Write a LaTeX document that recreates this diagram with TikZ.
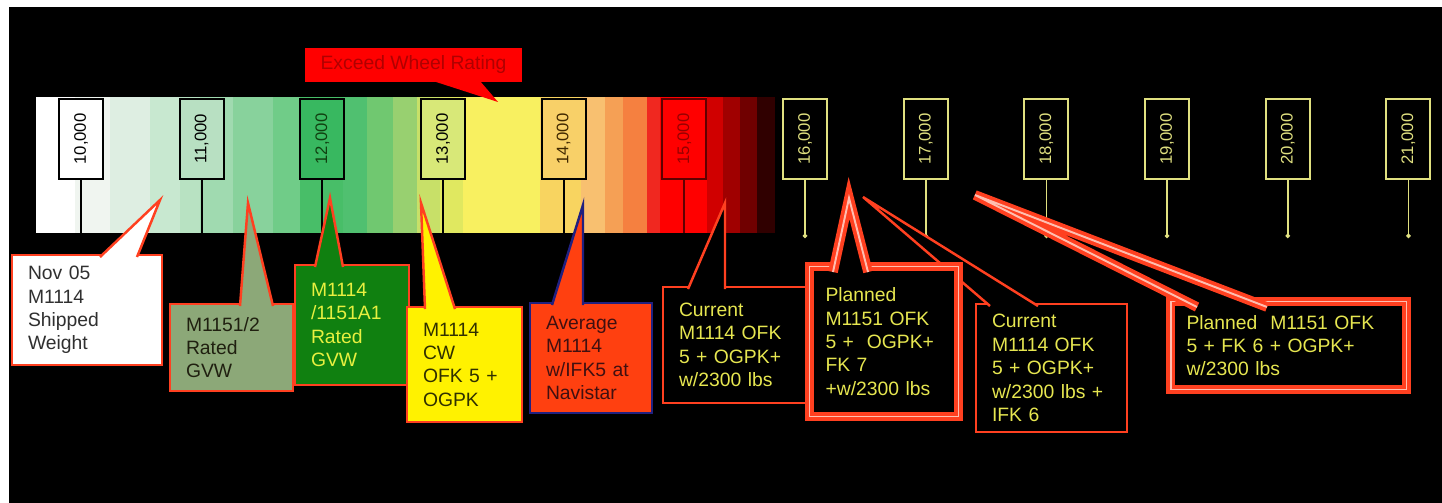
\documentclass[tikz,border=0pt]{standalone}
\usepackage{fontspec}
\setmainfont{Liberation Sans}
\usepackage{graphicx}
\usepackage{tikz}
\usetikzlibrary{arrows.meta, calc, positioning}

\definecolor{calred}{RGB}{255,64,32}
\definecolor{calpink}{RGB}{255,190,176}
\definecolor{calyel}{RGB}{230,230,80}
\definecolor{offyel}{RGB}{224,224,128}
\definecolor{sage}{RGB}{140,168,120}
\definecolor{darkgr}{RGB}{16,128,16}
\definecolor{navyline}{RGB}{32,32,128}
\definecolor{avgred}{RGB}{255,64,16}
\definecolor{tkgreen}{RGB}{184,224,194}
\definecolor{tkmid}{RGB}{56,184,96}
\definecolor{tklime}{RGB}{216,232,120}
\definecolor{tkorange}{RGB}{248,208,104}

\begin{document}
\begin{tikzpicture}[
            x = 0.02cm,
            y = -0.02cm,
            node distance = 2.414cm,
            on grid,
            tickon/.style = {draw = black, line width = 1.1pt, minimum width = 0.88cm,
                minimum height = 1.6cm, inner sep = 0pt, font = \fontsize{9.5}{11}\selectfont},
            tickoff/.style = {tickon, draw = offyel, fill = black, text = offyel},
            stemon/.style = {draw = black, line width = 1.1pt},
            stemoff/.style = {draw = offyel, line width = 1pt, -{Circle[length = 2.4pt]}},
            callbox/.style = {draw = calred, line width = 1.4pt, outer sep = 0pt, inner xsep = 0.32cm,
                align = left, font = \fontsize{11}{13.3}\selectfont},
            bigbox/.style = {callbox, line width = 2.2pt, double = calpink, double distance = 1.1pt},
            calltag/.style = {draw = calred, line width = 1.4pt},
            bigtag/.style = {calltag, line width = 2.2pt, double = calpink, double distance = 1.1pt}
        ]
        \useasboundingbox (0,0) rectangle (1442,503);
        \fill[white] (0,0) rectangle (1442,503);
        \fill[black] (9,7) rectangle (1442,503);

        % colour bar
        \foreach \xa/\xb/\r/\g/\b in {36/75/255/255/255, 75/110/240/245/240, 110/150/222/238/226,
            150/180/200/232/208, 180/200/184/226/194, 200/233/160/218/176, 233/273/136/210/156,
            273/300/112/204/136, 300/343/72/190/104, 343/367/80/192/112, 367/393/112/200/112,
            393/417/152/208/112, 417/440/200/224/104, 440/463/224/232/96, 463/540/248/240/96,
            540/581/248/212/96, 581/605/248/192/112, 605/623/245/160/85, 623/647/245/128/64,
            647/660/240/40/32, 660/707/255/0/0, 707/723/208/0/0, 723/740/160/0/0,
            740/757/112/0/0, 757/775/48/0/0}
            \fill[fill = {rgb,255:red,\r;green,\g;blue,\b}] (\xa,97) rectangle (\xb,233);
        \coordinate (barbot) at (0,233);
        \coordinate (stemend) at (0,238);

        \node[tickon, fill = white] (t10) at (81,139) {\rotatebox{90}{10,000}};
        \node[tickon, fill = tkgreen, right = of t10] (t11) {\rotatebox{90}{11,000}};
        \node[tickon, fill = tkmid, text = {rgb,255:red,16;green,64;blue,16}, right = of t11] (t12) {\rotatebox{90}{12,000}};
        \node[tickon, fill = tklime, right = of t12] (t13) {\rotatebox{90}{13,000}};
        \node[tickon, fill = tkorange, text = {rgb,255:red,64;green,40;blue,0}, right = of t13] (t14) {\rotatebox{90}{14,000}};
        \node[tickon, draw = {rgb,255:red,96;green,0;blue,0}, fill = red, text = {rgb,255:red,150;green,0;blue,0}, right = of t14] (t15) {\rotatebox{90}{15,000}};
        \node[tickoff, right = of t15] (t16) {\rotatebox{90}{16,000}};
        \node[tickoff, right = of t16] (t17) {\rotatebox{90}{17,000}};
        \node[tickoff, right = of t17] (t18) {\rotatebox{90}{18,000}};
        \node[tickoff, right = of t18] (t19) {\rotatebox{90}{19,000}};
        \node[tickoff, right = of t19] (t20) {\rotatebox{90}{20,000}};
        \node[tickoff, right = of t20] (t21) {\rotatebox{90}{21,000}};

        \draw[stemon] (t10) -- (t10 |- barbot);
        \draw[stemon] (t11) -- (t11 |- barbot);
        \draw[stemon] (t12) -- (t12 |- barbot);
        \draw[stemon] (t13) -- (t13 |- barbot);
        \draw[stemon] (t14) -- (t14 |- barbot);
        \draw[stemon, draw = {rgb,255:red,96;green,0;blue,0}] (t15) -- (t15 |- barbot);
        \draw[stemoff] (t16) -- (t16 |- stemend);
        \draw[stemoff] (t17) -- (t17 |- stemend);
        \draw[stemoff] (t18) -- (t18 |- stemend);
        \draw[stemoff] (t19) -- (t19 |- stemend);
        \draw[stemoff] (t20) -- (t20 |- stemend);
        \draw[stemoff] (t21) -- (t21 |- stemend);

        % callout tips
        \coordinate (pexc) at (498,102);
        \coordinate (pnov) at (160,200);
        \coordinate (pgvw) at (248,203);
        \coordinate (prated) at (330,198);
        \coordinate (pcw) at (421,203);
        \coordinate (pavg) at (583,205);
        \coordinate (pcur) at (725,203);
        \coordinate (pplan) at (849,198);
        \coordinate (pcurifk) at (863,197);
        \coordinate (pplanfk) at (975,195);

        \node[callbox, draw = none, fill = red, align = center, text = {rgb,255:red,176;green,0;blue,0},
            minimum width = 4.3cm, minimum height = 0.68cm] (exc) at (413.5,65) {Exceed Wheel Rating};
        \fill[red] ($(433,0 |- exc.south)+(0,-1)$) -- (pexc) -- ($(480,0 |- exc.south)+(0,-1)$) -- cycle;

        \node[callbox, fill = white, text = {rgb,255:red,48;green,48;blue,48}, text width = 2.36cm,
            minimum height = 2.2cm] (nov) at (87,310) {Nov 05\\ M1114\\ Shipped\\ Weight};
        \draw[calltag, fill = white] ($(100,0 |- nov.north)+(0,2)$) -- (pnov) -- ($(137,0 |- nov.north)+(0,2)$);

        \node[callbox, fill = sage, text = {rgb,255:red,32;green,32;blue,16}, text width = 1.82cm,
            minimum height = 1.74cm] (gvw) at (231.5,347.5) {M1151/2\\ Rated\\ GVW};
        \draw[calltag, fill = sage] ($(240,0 |- gvw.north)+(0,2)$) -- (pgvw) -- ($(273,0 |- gvw.north)+(0,2)$);

        \node[callbox, fill = darkgr, text = {rgb,255:red,232;green,240;blue,64}, text width = 1.64cm,
            minimum height = 2.4cm] (rated) at (352,325) {M1114\\ /1151A1\\ Rated\\ GVW};
        \draw[calltag, fill = darkgr] ($(315,0 |- rated.north)+(0,2)$) -- (prated) -- ($(343,0 |- rated.north)+(0,2)$);

        \node[callbox, fill = yellow, text = {rgb,255:red,48;green,48;blue,0}, text width = 1.66cm,
            minimum height = 2.3cm] (cw) at (464.5,364.5) {M1114\\ CW\\ OFK 5 +\\ OGPK};
        \draw[calltag, fill = yellow] ($(425,0 |- cw.north)+(0,2)$) -- (pcw) -- ($(455,0 |- cw.north)+(0,2)$);

        \node[callbox, draw = navyline, fill = avgred, text = {rgb,255:red,64;green,16;blue,16}, text width = 1.8cm,
            minimum height = 2.2cm] (avg) at (591,358) {Average\\ M1114\\ w/IFK5 at\\ Navistar};
        \draw[calltag, draw = navyline, fill = avgred] ($(552,0 |- avg.north)+(0,2)$) -- (pavg) -- ($(583,0 |- avg.north)+(0,2)$);

        \node[callbox, fill = black, text = calyel, text width = 2.3cm,
            minimum height = 2.32cm] (cur) at (736.5,345) {Current\\ M1114 OFK\\ 5 + OGPK+\\ w/2300 lbs};
        \draw[calltag, fill = black] ($(688,0 |- cur.north)+(0,2)$) -- (pcur) -- ($(725,0 |- cur.north)+(0,2)$);

        \node[callbox, fill = black, text = calyel, text width = 2.38cm,
            minimum height = 2.56cm] (curifk) at (1051.5,368) {Current\\ M1114 OFK\\ 5 + OGPK+\\ w/2300 lbs +\\ IFK 6};
        \draw[calltag, fill = black] ($(990,0 |- curifk.north)+(0,2)$) -- (pcurifk) -- ($(1038,0 |- curifk.north)+(0,2)$);

        \node[bigbox, fill = black, text = calyel, text width = 2.34cm,
            minimum height = 3.0cm] (plan) at (884,341.5) {Planned\\ M1151 OFK\\ 5 +\ \ OGPK+\\ FK 7\\ +w/2300 lbs};
        \draw[bigtag, fill = black] ($(833,0 |- plan.north)+(0,5.5)$) -- (pplan) -- ($(868,0 |- plan.north)+(0,5.5)$);

        \node[bigbox, fill = black, text = calyel, text width = 4.08cm,
            minimum height = 1.76cm] (planfk) at (1288.5,345.5) {Planned\ \ M1151 OFK\\ 5 + FK 6 + OGPK+\\ w/2300 lbs};
        \draw[bigtag, fill = black] ($(1197,0 |- planfk.north)+(0,5.5)$) -- (pplanfk) -- ($(1267,0 |- planfk.north)+(0,5.5)$);
    \end{tikzpicture}
\end{document}
